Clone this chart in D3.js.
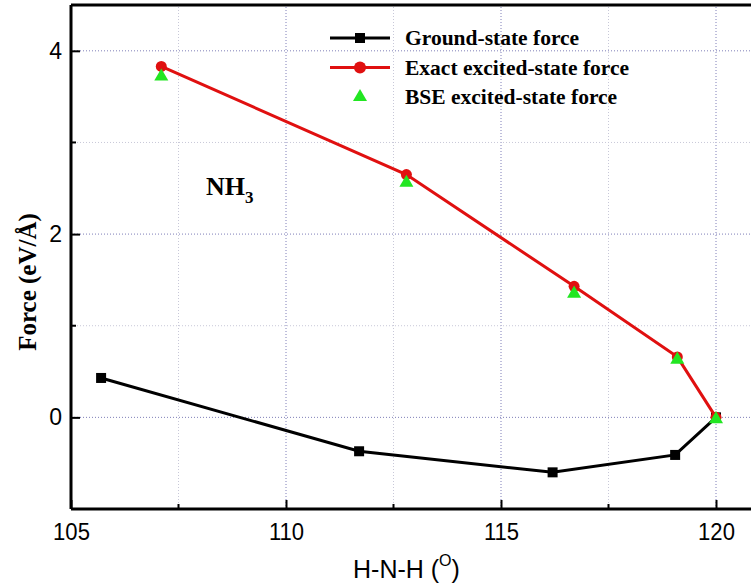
<!DOCTYPE html>
<html>
<head>
<meta charset="utf-8">
<script src="https://cdn.jsdelivr.net/npm/d3@7"></script>
<style>
  body { margin: 0; background: #fff; }
  svg { display: block; }
</style>
</head>
<body>
<div id="chart"></div>
<script>
// data
const groundAngle = [105.7, 111.7, 116.2, 119.05, 120];
const groundForce = [0.43, -0.37, -0.6, -0.41, 0];
const exactAngle = [107.1, 112.8, 116.7, 119.1, 120];
const exactForce = [3.83, 2.65, 1.43, 0.66, 0];
const bseAngle = [107.1, 112.8, 116.7, 119.1, 120];
const bseForce = [3.72, 2.56, 1.35, 0.63, -0.02];
const xMajor = [105, 110, 115, 120];
const xMinor = [107.5, 112.5, 117.5];
const yMajor = [0, 2, 4];
const yMinor = [1, 3];
const legendLabels = ["Ground-state force", "Exact excited-state force", "BSE excited-state force"];

const width = 751, height = 588;
const margin = {left: 71, top: 5, right: -8, bottom: 79};

const svg = d3.select("#chart").append("svg")
    .attr("width", width)
    .attr("height", height);

const x = d3.scaleLinear().domain([105, 121]).range([margin.left, width - margin.right]);
const y = d3.scaleLinear().domain([-1, 4.5]).range([height - margin.bottom, margin.top]);

const serif = "'Liberation Serif', 'Times New Roman', serif";
const sans = "'Liberation Sans', Arial, sans-serif";

// grid: major lines bluish, minor lines light grey, all dotted
const grid = svg.append("g");
grid.selectAll(".vmin").data(xMinor).join("line")
    .attr("x1", d => x(d)).attr("x2", d => x(d))
    .attr("y1", y(-1)).attr("y2", y(4.5))
    .attr("stroke", "#c8c8d8").attr("stroke-width", 1).attr("stroke-dasharray", "1,2");
grid.selectAll(".vmaj").data(xMajor.slice(1)).join("line")
    .attr("x1", d => x(d)).attr("x2", d => x(d))
    .attr("y1", y(-1)).attr("y2", y(4.5))
    .attr("stroke", "#7f7fb8").attr("stroke-width", 1).attr("stroke-dasharray", "1,2");
grid.selectAll(".hmin").data(yMinor).join("line")
    .attr("x1", x(105)).attr("x2", x(121))
    .attr("y1", d => y(d)).attr("y2", d => y(d))
    .attr("stroke", "#c8c8d8").attr("stroke-width", 1).attr("stroke-dasharray", "1,2");
grid.selectAll(".hmaj").data(yMajor).join("line")
    .attr("x1", x(105)).attr("x2", x(121))
    .attr("y1", d => y(d)).attr("y2", d => y(d))
    .attr("stroke", "#7f7fb8").attr("stroke-width", 1).attr("stroke-dasharray", "1,2");

// axes, ticks inward
const xAxis = svg.append("g")
    .attr("transform", `translate(0,${y(-1)})`)
    .call(d3.axisBottom(x).tickValues(xMajor).tickSize(-9).tickFormat(d3.format("d")));
xAxis.append("g").selectAll("line").data(xMinor).join("line")
    .attr("x1", d => x(d)).attr("x2", d => x(d))
    .attr("y1", 0).attr("y2", -5)
    .attr("stroke", "#000").attr("stroke-width", 2);
xAxis.selectAll(".tick line").attr("stroke-width", 2);
xAxis.select(".domain").attr("stroke-width", 3).attr("d", `M${x(105)},0H${x(121)}`);
xAxis.selectAll(".tick text")
    .attr("y", 14)
    .style("font-family", sans).style("font-size", "24px").attr("fill", "#000")
    .attr("transform", "scale(0.92,1)");

const yAxis = svg.append("g")
    .attr("transform", `translate(${x(105)},0)`)
    .call(d3.axisLeft(y).tickValues(yMajor).tickSize(-9).tickFormat(d3.format("d")));
yAxis.append("g").selectAll("line").data(yMinor).join("line")
    .attr("y1", d => y(d)).attr("y2", d => y(d))
    .attr("x1", 0).attr("x2", 5)
    .attr("stroke", "#000").attr("stroke-width", 2);
yAxis.selectAll(".tick line").attr("stroke-width", 2);
yAxis.select(".domain").attr("stroke-width", 3).attr("d", `M0,${y(-1)}V${y(4.5)}`);
yAxis.selectAll(".tick text")
    .attr("x", -9)
    .style("font-family", sans).style("font-size", "23px").attr("fill", "#000");

// top frame
svg.append("line")
    .attr("x1", x(105)).attr("x2", x(121))
    .attr("y1", y(4.5)).attr("y2", y(4.5))
    .attr("stroke", "#000").attr("stroke-width", 3);

// axis titles
svg.append("text")
    .attr("transform", `translate(36,282) rotate(-90)`)
    .attr("text-anchor", "middle")
    .style("font-family", serif).style("font-weight", "bold").style("font-size", "25px")
    .text("Force (eV/Å)");

const xt = svg.append("text")
    .attr("x", 353).attr("y", 578)
    .style("font-family", sans).style("font-size", "25px");
xt.append("tspan").text("H-N-H (");
xt.append("tspan").attr("dy", -12).style("font-size", "16px").text("O");
xt.append("tspan").attr("dy", 12).text(")");

// series
const line = d3.line().x(d => x(d[0])).y(d => y(d[1]));
const ground = d3.zip(groundAngle, groundForce);
const exact = d3.zip(exactAngle, exactForce);
const bse = d3.zip(bseAngle, bseForce);

svg.append("path").datum(ground).attr("d", line)
    .attr("fill", "none").attr("stroke", "#000").attr("stroke-width", 3);
svg.selectAll(".sq").data(ground).join("rect")
    .attr("x", d => x(d[0]) - 5).attr("y", d => y(d[1]) - 5)
    .attr("width", 10).attr("height", 10).attr("fill", "#000");

svg.append("path").datum(exact).attr("d", line)
    .attr("fill", "none").attr("stroke", "#e01010").attr("stroke-width", 3);
svg.selectAll(".ci").data(exact).join("circle")
    .attr("cx", d => x(d[0])).attr("cy", d => y(d[1])).attr("r", 5.5)
    .attr("fill", "#e01010");

const tri = d3.symbol().type(d3.symbolTriangle).size(85);
svg.selectAll(".tr").data(bse).join("path")
    .attr("transform", d => `translate(${x(d[0])},${y(d[1])})`)
    .attr("d", tri).attr("fill", "#22e622");

// NH3 label
const nh = svg.append("text")
    .attr("x", 206).attr("y", 195)
    .style("font-family", serif).style("font-weight", "bold").style("font-size", "26px");
nh.append("tspan").text("NH");
nh.append("tspan").attr("dy", 8).style("font-size", "17px").text("3");

// legend
const lg = svg.append("g").attr("transform", "translate(330,38)");
const rows = lg.selectAll("g").data(legendLabels).join("g")
    .attr("transform", (d, i) => `translate(0,${i * 29.5})`);
rows.filter((d, i) => i < 2).append("line")
    .attr("x1", 0).attr("x2", 60).attr("y1", 0).attr("y2", 0)
    .attr("stroke", (d, i) => i === 0 ? "#000" : "#e01010").attr("stroke-width", 3);
rows.filter((d, i) => i === 0).append("rect")
    .attr("x", 25).attr("y", -5).attr("width", 10).attr("height", 10).attr("fill", "#000");
rows.filter((d, i) => i === 1).append("circle")
    .attr("cx", 30).attr("cy", 0).attr("r", 6).attr("fill", "#e01010");
rows.filter((d, i) => i === 2).append("path")
    .attr("transform", "translate(30,0)").attr("d", tri).attr("fill", "#22e622");
rows.append("text")
    .attr("x", 75).attr("y", 7)
    .style("font-family", serif).style("font-weight", "bold").style("font-size", "21.5px")
    .text(d => d);
</script>
</body>
</html>
